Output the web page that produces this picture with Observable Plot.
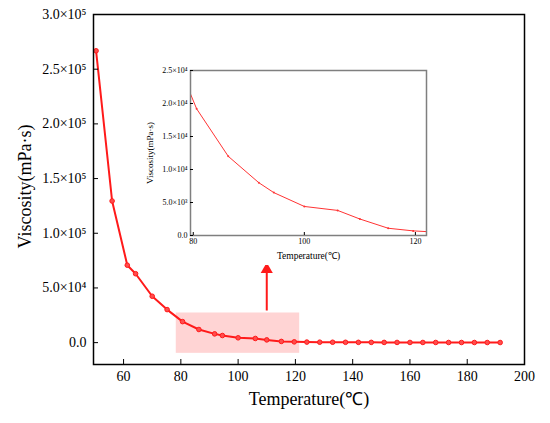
<!DOCTYPE html>
<html><head><meta charset="utf-8">
<script src="https://cdn.jsdelivr.net/npm/d3@7"></script>
<script src="https://cdn.jsdelivr.net/npm/@observablehq/plot@0.6"></script>
<style>
body{margin:0;background:white;}
#wrap{position:relative;width:550px;height:423px;}
#inset{position:absolute;left:145px;top:65px;}
</style>
</head><body>
<div id="wrap"><div id="main"></div><div id="inset"></div></div>
<script>
const temps = [50.4, 56, 61.3, 64.2, 70, 75.2, 80.6, 86.3, 91.8, 94.5, 100, 106, 110, 115.1, 119.6, 124, 128.5, 133, 137.5, 142, 146.5, 151, 155.5, 160, 164.5, 169, 173.5, 178, 182.5, 187, 191.5];
const viscosity = [266800, 129500, 70800, 63000, 42400, 30200, 19200, 12000, 8000, 6500, 4400, 3800, 2500, 1100, 700, 500, 400, 350, 300, 260, 230, 200, 180, 160, 150, 140, 130, 120, 110, 100, 100];
const xTicks = [60, 80, 100, 120, 140, 160, 180, 200];
const yTicks = [0, 50000, 100000, 150000, 200000, 250000, 300000];
const insetXTicks = [80, 100, 120];
const insetYTicks = [0, 5000, 10000, 15000, 20000, 25000];
const highlightX = [78.4, 121.5];
const highlightY = [-9800, 27100];
const arrowX = [110];
const arrowY = [28900, 66800];
const xLabel = "Temperature(℃)";
const yLabel = "Viscosity(mPa·s)";

const data = temps.map((t, i) => ({t, v: viscosity[i]}));
const highlight = [{x1: highlightX[0], x2: highlightX[1], y1: highlightY[0], y2: highlightY[1]}];
const arrowRule = [{x: arrowX[0], y1: arrowY[0], y2: arrowY[1]}];
const arrowHead = [{x: arrowX[0], y: arrowY[1]}];

const supMap = {"0":"⁰","1":"¹","2":"²","3":"³","4":"⁴","5":"⁵","6":"⁶","7":"⁷","8":"⁸","9":"⁹","-":"⁻"};
function sci(v){
  if (v === 0) return "0.0";
  const e = Math.floor(Math.log10(Math.abs(v)) + 1e-9);
  const m = v / Math.pow(10, e);
  return m.toFixed(1) + "×10" + String(e).split("").map(c => supMap[c]).join("");
}

const font = "'Liberation Serif', 'Times New Roman', serif";

const main = Plot.plot({
  width: 550, height: 423,
  marginLeft: 93, marginRight: 26, marginTop: 14, marginBottom: 59,
  x: {domain: [49.5, 200]},
  y: {domain: [-20000, 300000]},
  style: {fontFamily: font, fontSize: "14px", color: "black", background: "transparent"},
  marks: [
    Plot.rect(highlight, {x1: "x1", x2: "x2", y1: "y1", y2: "y2", fill: "#ff0000", fillOpacity: 0.17}),
    Plot.ruleX(arrowRule, {x: "x", y1: "y1", y2: "y2", stroke: "#ff1a1a", strokeWidth: 2}),
    Plot.dot(arrowHead, {x: "x", y: "y", symbol: "triangle", r: 4.5, fill: "#ff1a1a", stroke: "none"}),
    Plot.line(data, {x: "t", y: "v", stroke: "#ff1a1a", strokeWidth: 2}),
    Plot.dot(data, {x: "t", y: "v", r: 2.3, fill: "#ff4d4d", stroke: "#ff1a1a", strokeWidth: 1}),
    Plot.frame({stroke: "black", strokeWidth: 1.5}),
    Plot.axisX({ticks: xTicks, tickSize: -5, tickPadding: 12, label: null, fontSize: 14}),
    Plot.axisY({ticks: yTicks, tickFormat: sci, tickSize: -5, tickPadding: 12, label: null, fontSize: 14}),
    Plot.text([xLabel], {frameAnchor: "bottom", text: d => d, dy: 40, fontSize: 18}),
    Plot.text([yLabel], {frameAnchor: "left", textAnchor: "middle", text: d => d, rotate: -90, dx: -68, dy: -3, fontSize: 18})
  ]
});
document.getElementById("main").appendChild(main);

const inset = Plot.plot({
  width: 285, height: 200,
  marginLeft: 45, marginRight: 4, marginTop: 5, marginBottom: 30,
  x: {domain: [79.5, 122]},
  y: {domain: [0, 25000]},
  style: {fontFamily: font, fontSize: "8px", color: "black", background: "white"},
  marks: [
    Plot.line(data, {x: "t", y: "v", stroke: "#ff3333", strokeWidth: 1, clip: true}),
    Plot.dot(data, {x: "t", y: "v", r: 1, fill: "#ff3333", clip: true}),
    Plot.frame({stroke: "#7f7f7f", strokeWidth: 1.5}),
    Plot.axisX({ticks: insetXTicks, tickSize: -3, tickPadding: 6, label: null, fontSize: 8}),
    Plot.axisY({ticks: insetYTicks, tickFormat: sci, tickSize: -3, tickPadding: 6, label: null, fontSize: 8}),
    Plot.text([xLabel], {frameAnchor: "bottom", text: d => d, dy: 23, fontSize: 9.5}),
    Plot.text([yLabel], {frameAnchor: "left", textAnchor: "middle", text: d => d, rotate: -90, dx: -40, fontSize: 9})
  ]
});
document.getElementById("inset").appendChild(inset);
</script>
</body></html>
